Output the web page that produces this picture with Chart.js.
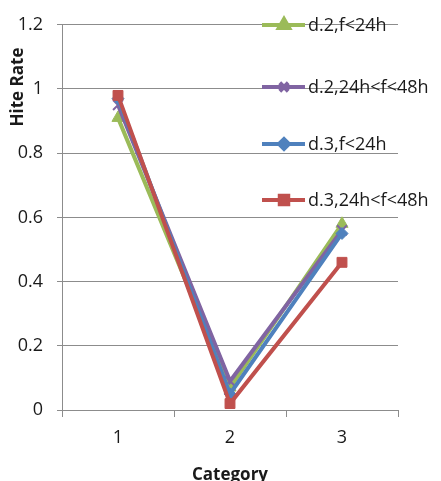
<!DOCTYPE html>
<html lang="en">
<head>
  <meta charset="UTF-8">
  <title>Hite Rate</title>
  <script src="https://cdn.jsdelivr.net/npm/chart.js"></script>
  <style>
    html, body { margin: 0; padding: 0; background: #fff; }
    .chart-div { width: 441px; height: 481px; }
  </style>
</head>
<body>
<div class="chart-div">
  <canvas id="myChart" width="441" height="481"></canvas>
</div>
<script>
  const categories = ['1', '2', '3'];
  const seriesNames = ['d.2,f<24h', 'd.2,24h<f<48h', 'd.3,f<24h', 'd.3,24h<f<48h'];
  const d2Under24 = [0.91, 0.07, 0.58];
  const d2Under48 = [0.95, 0.09, 0.56];
  const d3Under24 = [0.97, 0.05, 0.55];
  const d3Under48 = [0.98, 0.02, 0.46];
  const yTicks = [0, 0.2, 0.4, 0.6, 0.8, 1, 1.2];

  const colors = ['#9bbb59', '#8064a2', '#4f81bd', '#c0504d'];
  const markers = ['triangle', 'crossRot', 'rectRot', 'rect'];
  const markerSizes = [7, 7, 6, 7];
  const allData = [d2Under24, d2Under48, d3Under24, d3Under48];

  const FONT = '"Open Sans", "DejaVu Sans", sans-serif';
  const TEXT = '#1a1a1a';

  // legend sits inside the plot on the right, plus the y title drawn near the top
  const extras = {
    id: 'extras',
    afterDraw(chart) {
      const c = chart.ctx;
      const rows = [25, 87, 144, 200];
      chart.data.datasets.forEach((ds, i) => {
        const y = rows[i];
        c.save();
        c.strokeStyle = ds.borderColor;
        c.fillStyle = ds.borderColor;
        c.lineWidth = 4;
        c.beginPath();
        c.moveTo(262, y);
        c.lineTo(305, y);
        c.stroke();
        Chart.helpers.drawPoint(c, {
          pointStyle: ds.pointStyle,
          radius: ds.pointStyle === 'rectRot' ? 5 : 6,
          borderWidth: ds.pointStyle === 'crossRot' ? 2 : 1
        }, 284, y);
        c.fillStyle = TEXT;
        c.font = '18px ' + FONT;
        c.textBaseline = 'middle';
        c.textAlign = 'left';
        c.fillText(ds.label, 308, y + 1);
        c.restore();
      });

      c.save();
      c.translate(18, 87);
      c.rotate(-Math.PI / 2);
      c.fillStyle = TEXT;
      c.font = 'bold 17px ' + FONT;
      c.textAlign = 'center';
      c.textBaseline = 'middle';
      c.fillText('Hite Rate', 0, 0);
      c.restore();
    }
  };

  const ctx = document.getElementById('myChart').getContext('2d');
  new Chart(ctx, {
    type: 'line',
    data: {
      labels: categories,
      datasets: allData.map((d, i) => ({
        label: seriesNames[i],
        data: d,
        borderColor: colors[i],
        backgroundColor: colors[i],
        pointBackgroundColor: colors[i],
        pointBorderColor: colors[i],
        pointStyle: markers[i],
        pointRadius: markerSizes[i],
        pointBorderWidth: markers[i] === 'crossRot' ? 2 : 1,
        borderWidth: 4,
        tension: 0,
        fill: false,
        order: 3 - i
      }))
    },
    options: {
      responsive: false,
      animation: false,
      layout: { padding: { top: 21, right: 43, left: 0, bottom: 0 } },
      plugins: {
        legend: { display: false },
        tooltip: { enabled: false }
      },
      scales: {
        x: {
          offset: true,
          afterFit(scale) { scale.height = 71; },
          grid: {
            offset: true,
            drawOnChartArea: false,
            drawTicks: true,
            tickLength: 7,
            color: '#8c8c8c'
          },
          border: { color: '#8c8c8c', width: 1 },
          ticks: { color: TEXT, font: { family: FONT, size: 18 }, padding: 10 },
          title: {
            display: true,
            text: 'Category',
            color: TEXT,
            font: { family: FONT, size: 17, weight: 'bold' },
            padding: { top: 0, bottom: -4 }
          }
        },
        y: {
          min: 0,
          max: 1.2,
          afterFit(scale) { scale.width = 62; },
          afterBuildTicks(scale) { scale.ticks = yTicks.map(v => ({ value: v })); },
          grid: { color: '#8c8c8c', tickLength: 5 },
          border: { color: '#8c8c8c', width: 1 },
          ticks: {
            color: TEXT,
            font: { family: FONT, size: 18 },
            padding: 14,
            callback: v => String(v)
          }
        }
      }
    },
    plugins: [extras]
  });
</script>
</body>
</html>
